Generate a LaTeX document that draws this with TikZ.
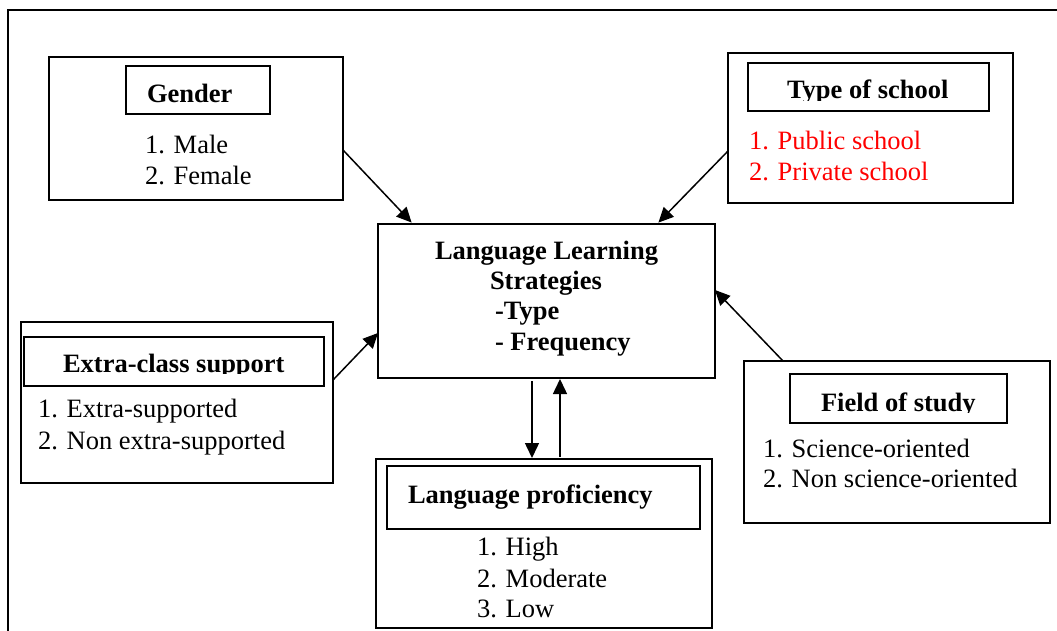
\documentclass[tikz,border=0pt]{standalone}
\usepackage{fontspec}
\setmainfont{Liberation Serif}
\usetikzlibrary{arrows.meta,calc}
\definecolor{redtxt}{RGB}{255,0,0}
\tikzset{
  box/.style={draw, line width=1.6pt, inner sep=0pt, outer sep=0pt},
  txt/.style={anchor=base west, inner sep=0pt, outer sep=0pt, font=\fontsize{26.5}{31}\selectfont},
  btxt/.style={txt, font=\fontsize{26.5}{31}\selectfont\bfseries},
  arr/.style={line width=1.5pt, -{Triangle[length=15pt,width=14pt]}}
}
\begin{document}
\begin{tikzpicture}[x=1pt,y=-1pt]
\useasboundingbox (0,0) rectangle (1057,630);
% outer frame
\draw[line width=1.6pt] (8,632) -- (8,10) -- (1059,10);

% Gender
\node[box, minimum width=294pt, minimum height=143pt] (gender) at (196,128.5) {};
\node[box, minimum width=144pt, minimum height=48pt] (genderT) at (198,90) {};
\node[btxt] (genderL) at (147,102) {Gender};
\node[txt] (g1) at (145,153) {1. Male};
\node[txt] (g2) at (145,184) {2. Female};

% Type of school
\node[box, minimum width=285pt, minimum height=150pt] (typ) at (870.5,128) {};
\node[box, minimum width=241pt, minimum height=48pt] (typT) at (868.5,87) {};
\begin{scope}
\clip (748,63) rectangle (989,100);
\node[btxt] (typL) at (787,98) {Type of school};
\end{scope}
\node[txt, text=redtxt] (t1) at (749,149) {1. Public school};
\node[txt, text=redtxt] (t2) at (749,180) {2. Private school};

% Center
\node[box, minimum width=337pt, minimum height=154pt] (llm) at (546.5,301) {};
\node[btxt] (c1) at (435,259) {Language Learning};
\node[btxt] (c2) at (490,289) {Strategies};
\node[btxt] (c3) at (495,319) {-Type};
\node[btxt] (c4) at (495,350) {- Frequency};

% Extra-class support
\node[box, minimum width=312pt, minimum height=161pt] (extra) at (177,402.5) {};
\node[box, minimum width=300pt, minimum height=49pt] (extraT) at (174,361.5) {};
\begin{scope}
\clip (24,337) rectangle (324,373);
\node[btxt] (extraL) at (63,372) {Extra-class support};
\end{scope}
\node[txt] (e1) at (38,417) {1. Extra-supported};
\node[txt] (e2) at (38,449) {2. Non extra-supported};

% Field of study
\node[box, minimum width=306pt, minimum height=162pt] (field) at (897,442) {};
\node[box, minimum width=217pt, minimum height=49pt] (fieldT) at (898.5,398.5) {};
\begin{scope}
\clip (790,374) rectangle (1007,412);
\node[btxt] (fieldL) at (821,411) {Field of study};
\end{scope}
\node[txt] (f1) at (763,457) {1. Science-oriented};
\node[txt] (f2) at (763,487) {2. Non science-oriented};

% Language proficiency
\node[box, minimum width=336pt, minimum height=169pt] (lp) at (544,543.5) {};
\node[box, minimum width=313pt, minimum height=63pt] (lpT) at (543.5,497.5) {};
\node[btxt] (lpL) at (408,503) {Language proficiency};
\node[txt] (l1) at (477,555) {1. High};
\node[txt] (l2) at (477,587) {2. Moderate};
\node[txt] (l3) at (477,617) {3. Low};

% arrows
\draw[arr, shorten >=2pt] (gender.east |- 0,150) -- (llm.north -| 413,0);
\draw[arr, shorten >=2pt] (typ.west |- 0,151) -- (llm.north -| 657,0);
\draw[arr] (extra.east |- 0,380) -- (llm.west |- 0,333);
\draw[arr] (field.north -| 783,0) -- (llm.east |- 0,290);
\draw[arr, shorten <=3pt, shorten >=1pt] (llm.south -| 532,0) -- (lp.north -| 532,0);
\draw[arr, shorten <=2pt, shorten >=1pt] (lp.north -| 560,0) -- (llm.south -| 560,0);
\end{tikzpicture}
\end{document}
